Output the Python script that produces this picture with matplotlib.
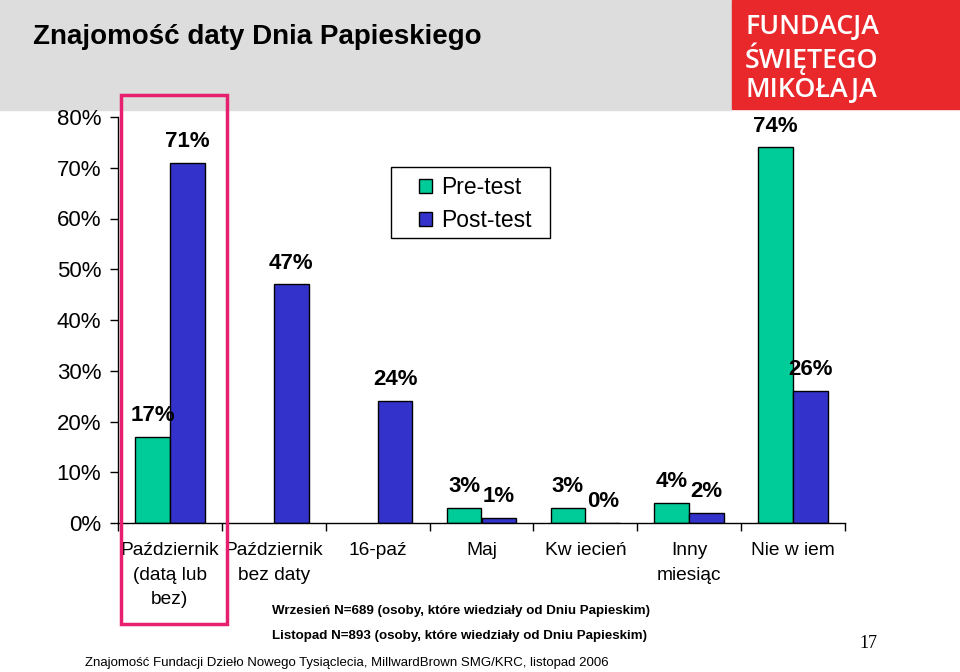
import numpy as np
import matplotlib
matplotlib.use("Agg")
import matplotlib.pyplot as plt
from matplotlib.patches import Rectangle

plt.rcParams['font.family'] = ['Liberation Sans', 'DejaVu Sans']

# data
categories = ['Październik\n(datą lub\nbez)', 'Październik\nbez daty', '16-paź', 'Maj',
              'Kw iecień', 'Inny\nmiesiąc', 'Nie w iem']
pre_test = [17, None, None, 3, 3, 4, 74]
post_test = [71, 47, 24, 1, 0, 2, 26]
series_names = ['Pre-test', 'Post-test']
yticks = [0, 10, 20, 30, 40, 50, 60, 70, 80]

GREEN = '#00CC99'
BLUE = '#3333CC'


def figbox(x0, y0, x1, y1, **kw):
    # rectangle given in pixel coords (top-left origin) of the 960x672 canvas
    return Rectangle((x0 / 960, 1 - y1 / 672), (x1 - x0) / 960, (y1 - y0) / 672, **kw)


def main():
    fig = plt.figure(figsize=(9.6, 6.72), dpi=100)

    # header band + logo box
    band = figbox(0, 0, 731, 110, transform=fig.transFigure, color='#DDDDDD', zorder=-5)
    logo = figbox(732, 0, 960, 109, transform=fig.transFigure, color='#E8282B', zorder=-5)
    fig.patches.extend([band, logo])
    fig.text(33 / 960, 1 - 37 / 672, 'Znajomość daty Dnia Papieskiego', fontsize=20,
             fontweight='bold', va='center', ha='left')
    for i, line in enumerate(['FUNDACJA', 'ŚWIĘTEGO', 'MIKOŁAJA']):
        fig.text(745 / 960, 1 - (27 + i * 31.5) / 672, line, color='white', fontsize=19.3,
                 fontweight='semibold', family=['Open Sans', 'DejaVu Sans'],
                 va='center', ha='left')

    ax = fig.add_axes([118 / 960, 1 - 523 / 672, 727 / 960, 406 / 672])
    ax.set_zorder(2)
    x = np.arange(len(categories))
    w = 0.335

    pre_x = [x[i] - w / 2 for i in range(len(x)) if pre_test[i] is not None]
    pre_v = [v for v in pre_test if v is not None]
    ax.bar(pre_x, pre_v, w, color=GREEN, edgecolor='black', linewidth=1, label=series_names[0])
    ax.bar(x + w / 2, post_test, w, color=BLUE, edgecolor='black', linewidth=1, label=series_names[1])

    for xi, v in zip(pre_x, pre_v):
        ax.annotate(f'{v}%', (xi, v), xytext=(0, 15.3), textcoords='offset points',
                    ha='center', va='center', fontsize=16, fontweight='bold')
    for xi, v in zip(x + w / 2, post_test):
        ax.annotate(f'{v}%', (xi, v), xytext=(0, 15.3), textcoords='offset points',
                    ha='center', va='center', fontsize=16, fontweight='bold')

    ax.set_xlim(-0.5, len(categories) - 0.5)
    ax.set_ylim(0, 80)
    ax.set_yticks(yticks)
    ax.set_yticklabels([f'{t}%' for t in yticks], fontsize=16)
    ax.tick_params(axis='y', direction='out', length=6, width=1, pad=6)
    ax.set_xticks(np.arange(-0.5, len(categories), 1.0))
    ax.set_xticklabels([])
    ax.tick_params(axis='x', direction='out', length=6, width=1)
    for xi, lab in zip(x, categories):
        ax.text(xi, -3.8, lab, ha='center', va='top', fontsize=13.8, linespacing=1.58,
                transform=ax.transData)
    for s in ['top', 'right']:
        ax.spines[s].set_visible(False)
    ax.spines['left'].set_linewidth(1)
    ax.spines['bottom'].set_linewidth(1)
    ax.set_facecolor('none')

    # legend text/markers, frame drawn separately to get the wide side padding
    ax.legend(loc='center left', bbox_to_anchor=((419 - 118) / 727, (523 - 204) / 406),
              fontsize=16.5, frameon=False, handlelength=0.55, handleheight=0.55,
              handletextpad=0.4, borderpad=0, labelspacing=0.45, borderaxespad=0)
    fig.patches.append(figbox(391, 167, 550, 238, transform=fig.transFigure, fill=False,
                              edgecolor='black', linewidth=1, zorder=3))

    # highlight box
    fig.patches.append(figbox(121, 95, 227, 624, transform=fig.transFigure, fill=False,
                              edgecolor='#E6206E', linewidth=2.5, zorder=5))

    narrow = ['Liberation Sans Narrow', 'Liberation Sans', 'DejaVu Sans']
    fig.text(272 / 960, 1 - 611 / 672,
             'Wrzesień N=689 (osoby, które wiedziały od Dniu Papieskim)',
             fontsize=9.6, fontweight='bold', family=narrow, va='center')
    fig.text(272 / 960, 1 - 636 / 672,
             'Listopad N=893 (osoby, które wiedziały od Dniu Papieskim)',
             fontsize=9.6, fontweight='bold', family=narrow, va='center')
    fig.text(85 / 960, 1 - 663 / 672,
             'Znajomość Fundacji Dzieło Nowego Tysiąclecia, MillwardBrown SMG/KRC, listopad 2006',
             fontsize=9.5, family=narrow, va='center')
    fig.text(859 / 960, 1 - 643 / 672, '17', fontsize=13, va='center',
             family=['Liberation Serif', 'DejaVu Serif'])

    fig.savefig('out.png', dpi=100)


if __name__ == "__main__":
    main()
